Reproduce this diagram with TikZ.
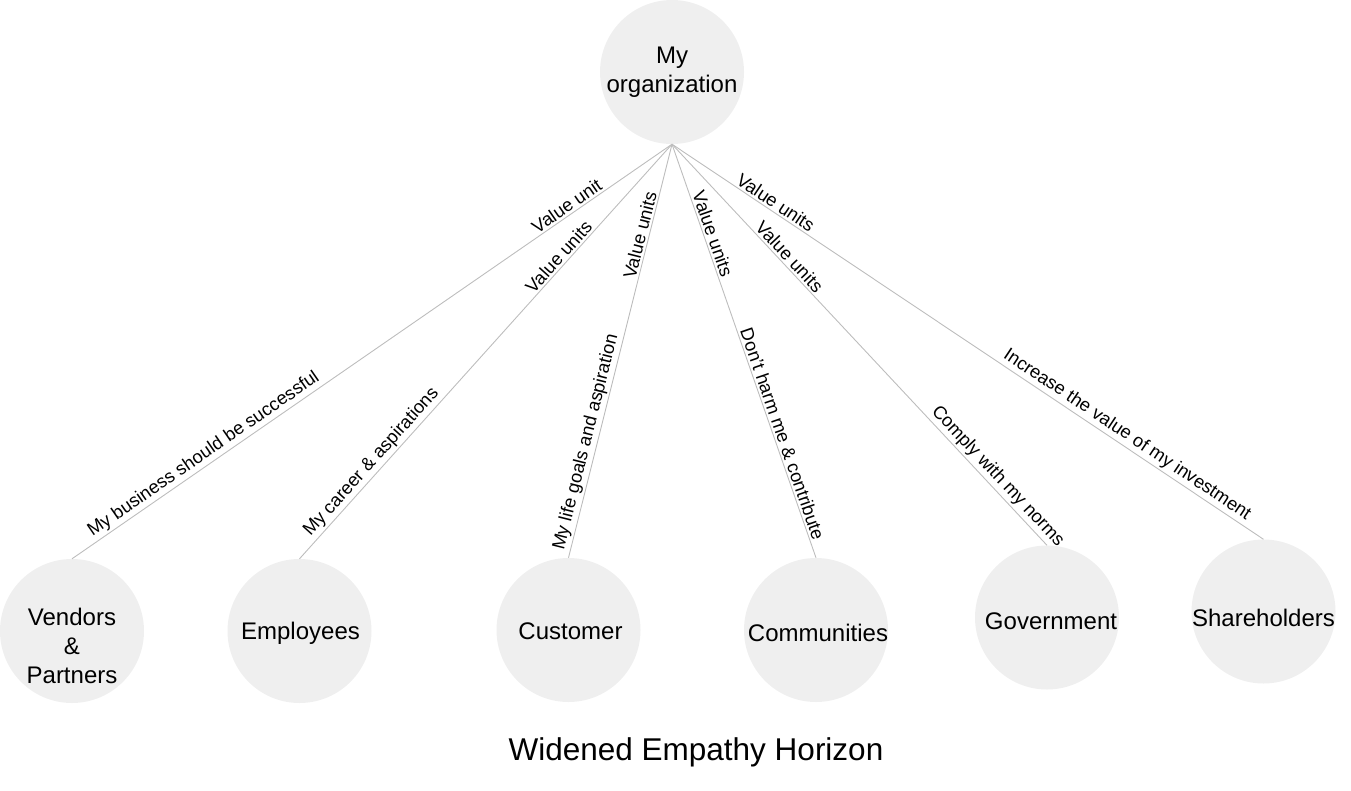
\documentclass[tikz,border=0pt]{standalone}
\usepackage{fontspec}
\setmainfont{Liberation Sans}
\usetikzlibrary{calc}
\definecolor{bubfill}{HTML}{EFEFEF}
\definecolor{linkcol}{HTML}{BDBDBD}
\tikzset{
  bub/.style={circle, fill=bubfill, minimum size=144pt, inner sep=0pt},
  btxt/.style={align=center, font=\fontsize{24}{29}\selectfont, inner sep=0pt},
  link/.style={draw=linkcol, line width=0.9pt},
  lab/.style={sloped, above, font=\fontsize{18.3}{20}\selectfont, inner sep=2pt},
}
\begin{document}
\begin{tikzpicture}[x=1pt,y=-1pt]
\useasboundingbox (0,0) rectangle (1351,790);
% nodes
\node[bub] (org) at (672,72) {};
\node[btxt] at ($(org.center)+(0,0)$) {My\\organization};
\node[bub] (ven) at (72,631) {};
\node[btxt] at ($(ven.center)+(0,15)$) {Vendors\\\&\\Partners};
\node[bub] (emp) at (299.5,631) {};
\node[btxt] at ($(emp.center)+(1,2)$) {Employees};
\node[bub] (cus) at (568.5,630) {};
\node[btxt] at ($(cus.center)+(2,1)$) {Customer};
\node[bub] (com) at (816,630) {};
\node[btxt] at ($(com.center)+(2,3)$) {Communities};
\node[bub] (gov) at (1047,617.5) {};
\node[btxt] at ($(gov.center)+(4,4)$) {Government};
\node[bub] (sha) at (1263.5,611.5) {};
\node[btxt] at ($(sha.center)+(0,6)$) {Shareholders};
% connectors
\draw[link] (org.south) -- node[lab, pos=0.167] {Value unit} node[lab, pos=0.77] {My business should be successful} (ven.north);
\draw[link] (org.south) -- node[lab, pos=0.286] {Value units} node[lab, pos=0.785] {My career \& aspirations} (emp.north);
\draw[link] (org.south) -- node[lab, pos=0.225] {Value units} node[lab, pos=0.727] {My life goals and aspiration} (cus.north);
\draw[link] (org.south) -- node[lab, pos=0.224] {Value units} node[lab, pos=0.708] {Don't harm me \& contribute} (com.north);
\draw[link] (org.south) -- node[lab, pos=0.296] {Value units} node[lab, pos=0.847] {Comply with my norms} (gov.north);
\draw[link] (org.south) -- node[lab, pos=0.167] {Value units} node[lab, pos=0.759] {Increase the value of my investment} (sha.north);
% title
\node[font=\fontsize{31.5}{36}\selectfont] (title) at (696,752) {Widened Empathy Horizon};
\end{tikzpicture}
\end{document}
